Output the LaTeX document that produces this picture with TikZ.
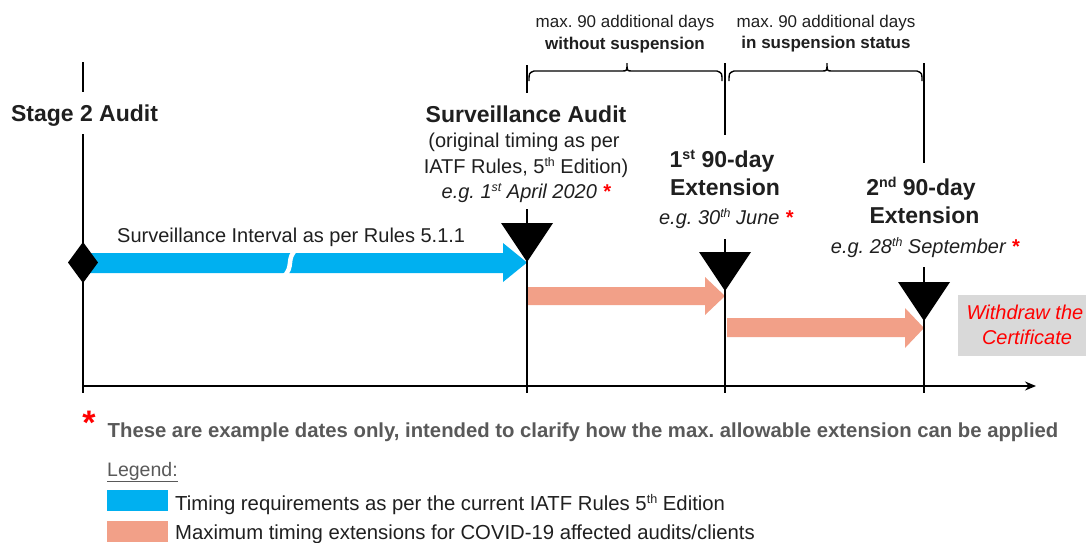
\documentclass[tikz,border=0pt]{standalone}
\usepackage{fontspec}
\setmainfont{Liberation Sans}
\usetikzlibrary{arrows.meta,calc}
\definecolor{cblue}{HTML}{00B0F0}
\definecolor{csalmon}{HTML}{F2A088}
\definecolor{cgray}{HTML}{595959}
\definecolor{cbox}{HTML}{D9D9D9}
\definecolor{ctext}{HTML}{1F1F1F}
\definecolor{cred}{HTML}{FF0000}
\newcommand{\fsA}{\fontsize{17}{20}\selectfont}
\newcommand{\fsB}{\fontsize{20}{24}\selectfont}
\newcommand{\fsL}{\fontsize{20.3}{24}\selectfont}
\newcommand{\fsC}{\fontsize{23}{27}\selectfont}
\newcommand{\rst}{{\color{cred}\bfseries *}}
\newcommand{\sups}[1]{\raisebox{0.6ex}{\scalebox{0.62}{#1}}}
\frenchspacing
\begin{document}
\begin{tikzpicture}[x=1pt,y=-1pt,
  vline/.style={line width=1.6pt, black},
  brace/.style={line width=1.4pt, black},
  lbl/.style={anchor=base, inner sep=0pt, text=ctext},
  tri/.style={fill=black}
]
\useasboundingbox (0,0) rectangle (1086,542);

% ---------- block arrows ----------
\fill[cblue] (83,253) -- (503,253) -- (503,243) -- (527,262.5) -- (503,282) -- (503,273) -- (83,273) -- cycle;
\draw[white, line width=4.5pt] (297,249) .. controls (285,258) and (295,267) .. (283,277);
\fill[csalmon] (528,287) -- (705,287) -- (705,277) -- (725,296) -- (705,315) -- (705,305) -- (528,305) -- cycle;
\fill[csalmon] (727,318) -- (905,318) -- (905,308) -- (924,328) -- (905,348) -- (905,337) -- (727,337) -- cycle;

% ---------- vertical lines ----------
\coordinate (s2top) at (83,62);  \coordinate (s2a) at (83,92);
\coordinate (s2b) at (83,134);   \coordinate (s2bot) at (83,393);
\coordinate (sutop) at (527,65); \coordinate (sua) at (527,93);
\coordinate (sub) at (527,209);  \coordinate (subot) at (527,393);
\coordinate (f1top) at (725,63); \coordinate (f1a) at (725,135);
\coordinate (f1b) at (725,239);  \coordinate (f1bot) at (725,393);
\coordinate (f2top) at (924,63); \coordinate (f2a) at (924,163);
\coordinate (f2b) at (924,267);  \coordinate (f2bot) at (924,393);
\draw[vline] (s2top) -- (s2a);  \draw[vline] (s2b) -- (s2bot);
\draw[vline] (sutop) -- (sua);  \draw[vline] (sub) -- (subot);
\draw[vline] (f1top) -- (f1a);  \draw[vline] (f1b) -- (f1bot);
\draw[vline] (f2top) -- (f2a);  \draw[vline] (f2b) -- (f2bot);

% ---------- axis ----------
\coordinate (axL) at (83,386);
\coordinate (axR) at (1036,386);
\draw[line width=1.6pt, -{Stealth[length=11pt,width=9pt]}] (axL) -- (axR);

% ---------- markers ----------
\fill[black] (83,242) -- (98,262.5) -- (83,283) -- (68,262.5) -- cycle;
\fill[tri] (501,223) -- (553,223) -- (527,262) -- cycle;
\fill[tri] (699,252) -- (751,252) -- (725,291) -- cycle;
\fill[tri] (898,282) -- (950,282) -- (924,321) -- cycle;

% ---------- braces ----------
\draw[brace] (529,81) .. controls (529,73) .. (534,71) -- (622,71) .. controls (627,71) .. (627,63)
  .. controls (627,71) .. (632,71) -- (717,71) .. controls (722,73) .. (722,81);
\draw[brace] (729,81) .. controls (729,73) .. (734,71) -- (822,71) .. controls (827,71) .. (827,63)
  .. controls (827,71) .. (832,71) -- (917,71) .. controls (922,73) .. (922,81);

% ---------- texts ----------
\node[lbl, font=\fsA] (b1a) at (625,27) {max. 90 additional days};
\node[lbl, font=\fsA\bfseries] (b1b) at (625,49) {without suspension};
\node[lbl, font=\fsA] (b2a) at (826,27) {max. 90 additional days};
\node[lbl, font=\fsA\bfseries] (b2b) at (826,48) {in suspension status};

\node[lbl, font=\fsC\bfseries] (s2) at (84.5,121) {Stage 2 Audit};

\node[lbl, font=\fsC\bfseries] (su1) at (526,122) {Surveillance Audit};
\node[lbl, font=\fsB] (su2) at (524,147) {(original timing as per};
\node[lbl, font=\fsB] (su3) at (526,173) {IATF Rules, 5\sups{th} Edition)};
\node[lbl, font=\fsB\itshape] (su4) at (526,198) {e.g. 1\sups{st} April 2020 \rst};

\node[lbl, font=\fsC\bfseries] (e1a) at (722,167) {1\sups{st} 90-day};
\node[lbl, font=\fsC\bfseries] (e1b) at (725,195) {Extension};
\node[lbl, font=\fsB\itshape] (e1c) at (726,224) {e.g. 30\sups{th} June \rst};

\node[lbl, font=\fsC\bfseries] (e2a) at (921,195) {2\sups{nd} 90-day};
\node[lbl, font=\fsC\bfseries] (e2b) at (924.5,223) {Extension};
\node[lbl, font=\fsB\itshape] (e2c) at (925,253) {e.g. 28\sups{th} September \rst};

\node[lbl, anchor=base west, font=\fsB] (si) at (117,242) {Surveillance Interval as per Rules 5.1.1};

% withdraw box
\fill[cbox] (958,295) rectangle (1086,356);
\node[lbl, font=\fsB\itshape, text=cred] (w1) at (1025,319) {Withdraw the};
\node[lbl, font=\fsB\itshape, text=cred] (w2) at (1027,344) {Certificate};

% footnote
\node[lbl, font=\fontsize{34}{34}\selectfont\bfseries, text=cred] (star) at (89,434) {*};
\node[lbl, anchor=base west, font=\fsL\bfseries, text=cgray] (fn) at (107.5,437) {These are example dates only, intended to clarify how the max. allowable extension can be applied};

% legend
\node[lbl, anchor=base west, font=\fontsize{19.5}{22}\selectfont, text=cgray] (lg) at (107,476) {\underline{Legend:}};
\fill[cblue] (107,490) rectangle (168,511);
\node[lbl, anchor=base west, font=\fsL] (lg1) at (175,510) {Timing requirements as per the current IATF Rules 5\sups{th} Edition};
\fill[csalmon] (107,521) rectangle (168,542);
\node[lbl, anchor=base west, font=\fsL] (lg2) at (175,539) {Maximum timing extensions for COVID-19 affected audits/clients};
\end{tikzpicture}
\end{document}
